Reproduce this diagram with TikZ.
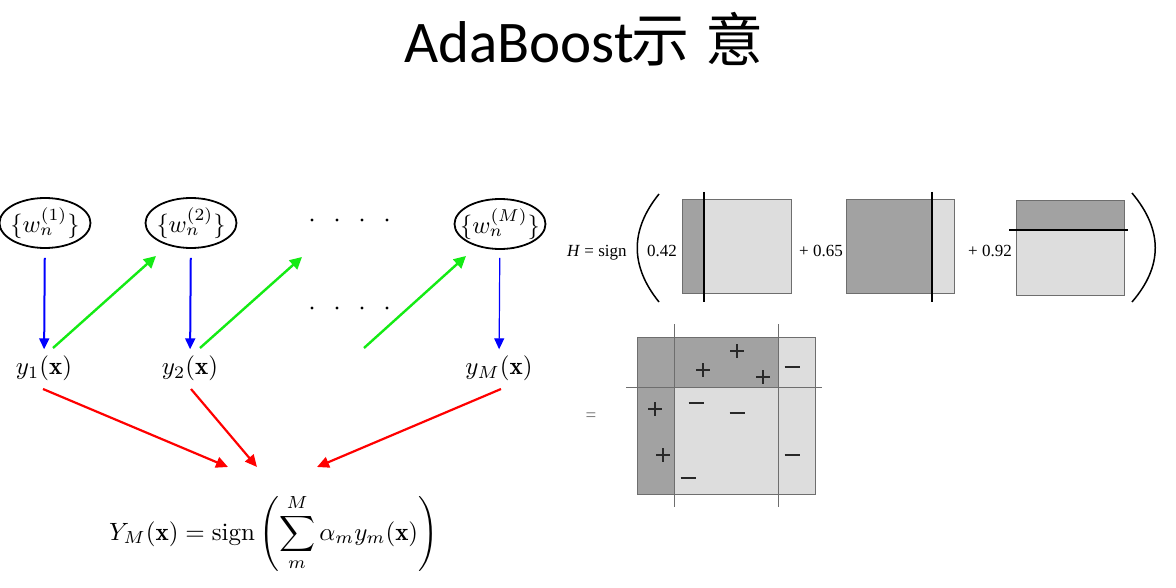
\documentclass[tikz,border=0pt]{standalone}
\usepackage{amsmath}
\usepackage{fontspec}
\newfontfamily\carlito{Carlito}
\newfontfamily\cjk{Noto Sans CJK SC}
\newfontfamily\timesf{Liberation Serif}
\usetikzlibrary{arrows.meta,shapes.geometric,calc}
\definecolor{bblue}{RGB}{0,0,255}
\definecolor{bgreen}{RGB}{20,235,20}
\definecolor{bred}{RGB}{255,0,0}
\definecolor{darkg}{RGB}{162,162,162}
\definecolor{lightg}{RGB}{221,221,221}
\definecolor{bordg}{RGB}{110,110,110}
\definecolor{markg}{RGB}{40,40,40}
\newcommand{\myscaledmath}[1]{\scalebox{2.5}{#1}}
\tikzset{
  wnode/.style={ellipse,draw,line width=1.8pt,minimum width=91pt,minimum height=50pt,inner sep=0pt},
  mlbl/.style={inner sep=0pt},
  barr/.style={draw=bblue,line width=2pt,-{Triangle[length=11pt,width=10pt]}},
  garr/.style={draw=bgreen,line width=2.4pt,-{Triangle[length=12pt,width=12pt]}},
  rarr/.style={draw=bred,line width=2.2pt,-{Triangle[length=12pt,width=11pt]}},
  ttext/.style={inner sep=0pt,anchor=base west,font=\timesf\fontsize{17}{20}\selectfont},
  cutline/.style={draw=black,line width=1.5pt},
  cutthin/.style={draw=bordg,line width=1pt},
  boxb/.style={draw=bordg,line width=1pt},
  pm/.style={draw=markg,line width=1.8pt}
}
\begin{document}
\begin{tikzpicture}[x=1pt,y=-1pt]
\useasboundingbox[fill=white] (0,0) rectangle (1176,588);
% title
\node[inner sep=0pt,anchor=base west,font=\carlito\fontsize{59}{62}\selectfont] (title) at (404,63) {AdaBoost};
\node[inner sep=0pt,anchor=base,font=\cjk\fontsize{58}{60}\selectfont] (t1) at (660,62) {示};
\node[inner sep=0pt,anchor=base,font=\cjk\fontsize{58}{60}\selectfont] (t2) at (734,62) {意};
% left diagram
\node[wnode,label={[mlbl]center:\scalebox{2.45}{$\{w_n^{(1)}\}$}}] (w1) at (45,223) {};
\node[wnode,label={[mlbl]center:\scalebox{2.45}{$\{w_n^{(2)}\}$}}] (w2) at (191,223) {};
\node[wnode,label={[mlbl]center:\scalebox{2.45}{$\{w_n^{(M)}\}$}}] (wM) at (500,224) {};
\foreach \x in {312,337,362,387} {
  \fill (\x,220) circle (1.6);
  \fill (\x,308) circle (1.6);
}
\node[mlbl] (y1) at (44,368) {\myscaledmath{$y_1(\mathbf{x})$}};
\node[mlbl] (y2) at (190,368) {\myscaledmath{$y_2(\mathbf{x})$}};
\node[mlbl] (yM) at (499,368) {\myscaledmath{$y_M(\mathbf{x})$}};
\node[mlbl,anchor=west] (Y) at (109,533) {\myscaledmath{$\displaystyle Y_M(\mathbf{x}) = \mathrm{sign}\left(\sum_{m}^{M} \alpha_m y_m(\mathbf{x})\right)$}};
\coordinate (g2e) at (302,257);
\coordinate (g3s) at (364,348);
\draw[barr,shorten <=9pt,shorten >=6pt] (w1) -- (y1);
\draw[barr,shorten <=9pt,shorten >=6pt] (w2) -- (y2);
\draw[barr,line width=1.2pt,shorten <=8pt,shorten >=6pt] (wM) -- (yM);
\draw[garr] ($(y1)+(9,-20)$) -- ($(w2)+(-35,33)$);
\draw[garr] ($(y2)+(10,-20)$) -- (g2e);
\draw[garr] (g3s) -- ($(wM)+(-34,32)$);
\draw[rarr] ($(y1)+(-1,21)$) -- (228,467);
\draw[rarr] ($(y2)+(1,21)$) -- (257,467);
\draw[rarr] ($(yM)+(2,21)$) -- (317,467);
% right top
\node[ttext] (H) at (567,257) {\textit{H} = sign};
\draw[line width=1.5pt] (659,194) .. controls (630,230) and (630,266) .. (659,302);
\node[ttext] (c1) at (647,257) {0.42};
\fill[lightg] (682,200) rectangle (791,294);
\fill[darkg] (682,200) rectangle (704,294);
\draw[boxb] (682,200) rectangle (791,294);
\draw[cutline] (704,192) -- (704,302);
\node[ttext] (c2) at (799,257) {+ 0.65};
\fill[lightg] (846,200) rectangle (954,294);
\fill[darkg] (846,200) rectangle (932,294);
\draw[boxb] (846,200) rectangle (954,294);
\draw[cutline] (932,192) -- (932,302);
\node[ttext] (c3) at (968,257) {+ 0.92};
\fill[lightg] (1016,201) rectangle (1124,296);
\fill[darkg] (1016,201) rectangle (1124,230);
\draw[boxb] (1016,201) rectangle (1124,296);
\draw[cutline] (1009,230) -- (1128,230);
\draw[line width=1.5pt] (1132,193) .. controls (1163,230) and (1163,266) .. (1132,302);
% right bottom
\node[inner sep=0pt,text=black!55,font=\timesf\fontsize{19}{20}\selectfont] (eq) at (591,417) {=};
\fill[lightg] (637,337) rectangle (815,494);
\fill[darkg] (637,337) rectangle (674,494);
\fill[darkg] (674,337) rectangle (778,387);
\draw[boxb] (637,337) rectangle (815,494);
\draw[cutthin] (674,324) -- (674,507);
\draw[cutthin] (778,324) -- (778,507);
\draw[cutthin] (626,387) -- (822,387);
\foreach \p in {(737,351),(703,370),(763,377),(655,409),(663,455)} {
  \draw[pm] \p ++(-7,0) -- ++(14,0);
  \draw[pm] \p ++(0,-7) -- ++(0,14);
}
\foreach \p in {(792,367),(696,403),(737,413),(792,455),(688,478)} {
  \draw[pm,line width=1.6pt] \p ++(-7.5,0) -- ++(15,0);
}
\end{tikzpicture}
\end{document}
